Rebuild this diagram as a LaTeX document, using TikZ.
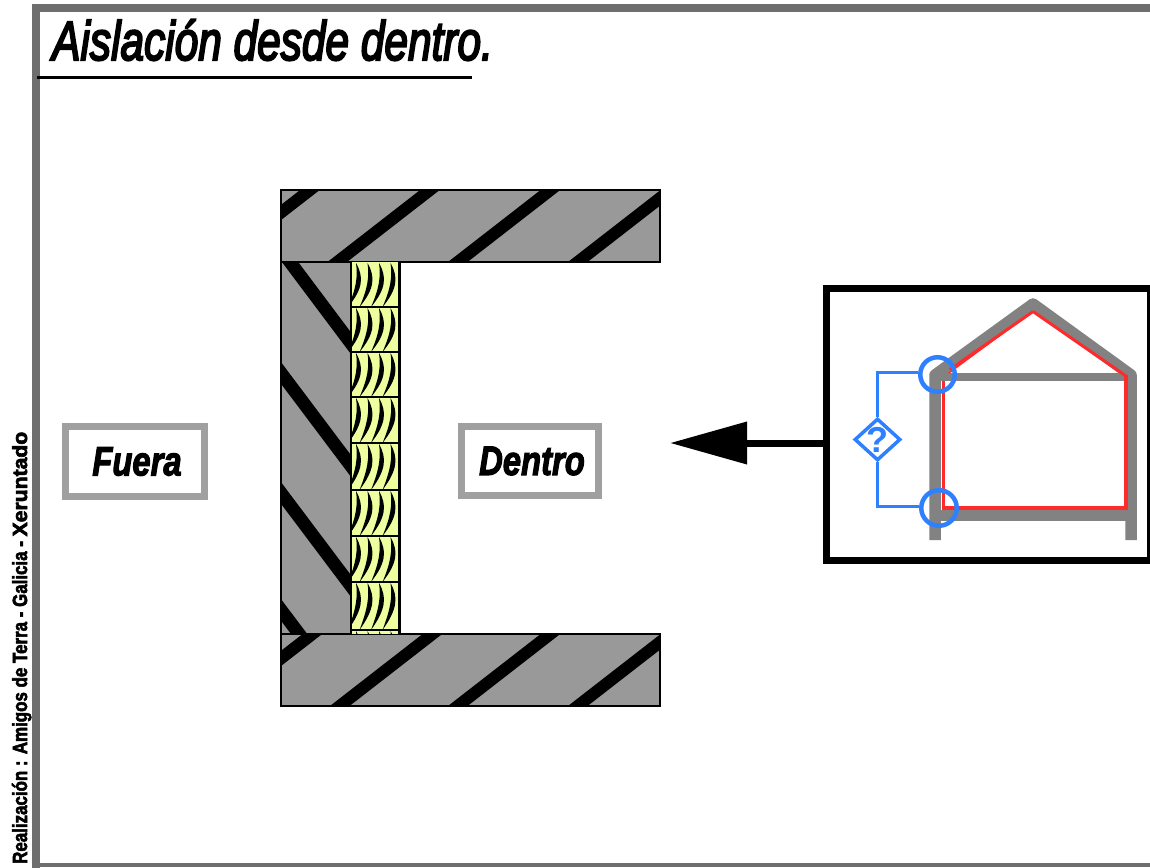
\documentclass[tikz,border=0pt]{standalone}
\usepackage{fontspec}
\usepackage{graphicx}
\setmainfont{Liberation Sans}
\newfontfamily\heavyital[FakeBold=4]{Liberation Sans Italic}
\newfontfamily\heavybold[FakeBold=3]{Liberation Sans Bold Italic}
\newfontfamily\heavycredit[FakeBold=3]{Liberation Sans Bold}
\usetikzlibrary{arrows.meta,shapes.geometric}
\definecolor{wallgray}{HTML}{999999}
\definecolor{framegray}{HTML}{6E6E6E}
\definecolor{labelgray}{HTML}{A0A0A0}
\definecolor{housegray}{HTML}{828282}
\definecolor{insul}{HTML}{EEFFA0}
\definecolor{blueq}{HTML}{2F80FF}
\definecolor{redline}{HTML}{FF2A2A}
\tikzset{
  hatchline/.style={line width=12pt,black},
  sidehatch/.style={line width=13pt,black},
  labelbox/.style={draw=labelgray,line width=7pt,fill=white,inner sep=0pt,
    font=\fontsize{32.8pt}{36pt}\selectfont\heavybold},
  ringnode/.style={circle,draw=blueq,line width=4.5pt,inner sep=0pt},
  bluelink/.style={draw=blueq,line width=3pt},
}
\begin{document}
\begin{tikzpicture}[x=1pt,y=-1pt]
\useasboundingbox (0,0) rectangle (1150,867);
\fill[white] (0,0) rectangle (1150,867);
% frame
\draw[framegray,line width=8pt] (1160,8) -- (36,8) -- (36,880);
\draw[framegray,line width=4pt] (36,865) -- (1160,865);
% title
\node[anchor=base west,inner sep=0pt] (title) at (52,60)
  {\fontsize{42.4pt}{46pt}\selectfont\scalebox{1}[1.3]{\heavyital Aislación desde dentro.}};
\draw[black,line width=3pt] (37,77) -- (472,77);
% side credit
\node[anchor=base west,rotate=90,inner sep=0pt] (credit) at (27,864)
  {\fontsize{15pt}{17pt}\selectfont\heavycredit\resizebox{432pt}{15pt}{Realización : Amigos de Terra - Galicia - \scalebox{1.25}[1]{Xeruntado}}};
% walls
\begin{scope}
  \clip (281,190) rectangle (660,262);
  \fill[wallgray] (281,190) rectangle (660,262);
  \foreach \xa in {209.5,329.5,450,570}
    \draw[hatchline] (\xa,268) -- ++(112,-87);
\end{scope}
\draw[black,line width=1.6pt] (281,190) rectangle (660,262);
\begin{scope}
  \clip (281,262) rectangle (351,634);
  \fill[wallgray] (281,262) rectangle (351,634);
  \draw[sidehatch] (284,254) -- ++(75,100);
  \draw[sidehatch] (275,365) -- ++(85,113);
  \draw[sidehatch] (275,485) -- ++(85,113);
  \draw[sidehatch] (275,602) -- ++(40,53);
\end{scope}
\draw[black,line width=1.6pt] (281,262) rectangle (351,634);
\begin{scope}
  \clip (281,634) rectangle (660,706);
  \fill[wallgray] (281,634) rectangle (660,706);
  \foreach \xa in {212,332,450,570}
    \draw[hatchline] (\xa,712) -- ++(112,-87);
\end{scope}
\draw[black,line width=1.6pt] (281,634) rectangle (660,706);
% insulation
\fill[insul] (351,262) rectangle (400,634);
\begin{scope}
  \clip (351,262) rectangle (399,634);
  \foreach \ya/\yb in {263/307,308/352,353/397,398/443,444/490,491/536,537/582,583/630,631/660}{
    \foreach \xa in {356,367.5,379,390.5}
      \fill[black] (\xa,\ya) .. controls (\xa+8,\ya+14) and (\xa+7,\ya+26) .. (\xa-8,\yb)
        .. controls (\xa,\ya+26) and (\xa+2,\ya+14) .. cycle;
    \draw[black,line width=2.5pt] (351,\yb) -- (400,\yb);
  }
\end{scope}
\draw[black,line width=2.2pt] (351,262) -- (351,634) (399.5,262) -- (399.5,634);
% labels
\node[labelbox,minimum width=139pt,minimum height=70pt] (fuera) at (135,461.5) {\hspace{4pt}\scalebox{1}[1.25]{Fuera}};
\node[labelbox,minimum width=137pt,minimum height=69pt] (dentro) at (530,461) {\hspace{4pt}\scalebox{1}[1.25]{Dentro}};
% inset
\node[draw=black,line width=7pt,fill=white,minimum width=324pt,minimum height=271.5pt,inner sep=0pt] (inset) at (988.5,424.25) {};
% house
\draw[redline,line width=3pt,line join=miter] (943.5,376) -- (1033,310) -- (1126,375);
\draw[housegray,line width=11.5pt,line join=round] (935,540) -- (935,375) -- (1033,304) -- (1131,375) -- (1131,540);
\draw[housegray,line width=7.5pt] (935,377) -- (1126,377);
\draw[housegray,line width=10.5pt] (935,515.5) -- (1131,515.5);
\draw[redline,line width=3.5pt,line join=miter] (943.5,381) -- (943.5,508) -- (1126,508) -- (1126,375);
\draw[redline,line width=3pt] (1033,311.5) -- (1126,376) (1033,311.5) -- (950,369.5);
% blue marks
\node[ringnode,minimum size=34.5pt] (ringtop) at (937.5,374.5) {};
\node[ringnode,minimum size=35.5pt] (ringbot) at (939,508) {};
\node[diamond,draw=blueq,line width=3.5pt,fill=white,minimum width=46pt,minimum height=42pt,inner sep=0pt,
  text=blueq,font=\fontsize{36pt}{38pt}\selectfont\bfseries] (query) at (877.5,439.5)
  {\raisebox{-.36em}[0pt][0pt]{\makebox[0pt]{?}}};
\draw[bluelink] (query.north) |- ([yshift=2pt]ringtop.west);
\draw[bluelink] (query.south) |- ([yshift=2pt]ringbot.west);
% arrow
\coordinate (arrowtip) at (670,443);
\draw[black,line width=7pt,-{Triangle[length=77pt,width=41pt]}] (inset.west |- arrowtip) -- (arrowtip);
\end{tikzpicture}
\end{document}
